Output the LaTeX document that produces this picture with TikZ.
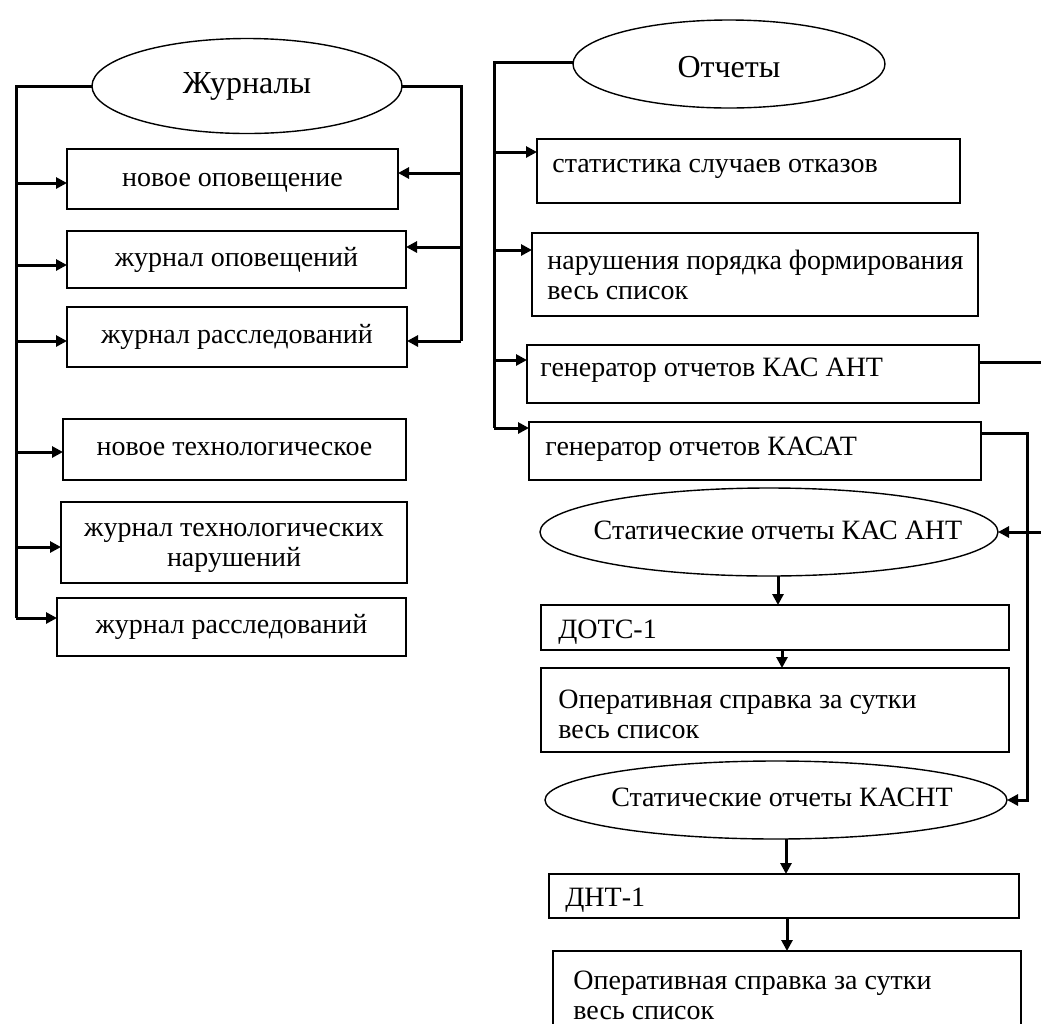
\documentclass[tikz,border=0pt]{standalone}
\usepackage{fontspec}
\setmainfont{Liberation Serif}
\usetikzlibrary{arrows.meta,shapes.geometric}

% box given by its left, top, right and bottom edges (in pixel units)
\newcommand{\edgebox}[5]{%
  \node[bx, minimum width={(#4-#2)*0.5pt}, minimum height={(#5-#3)*0.5pt}]
    (#1) at ({(#2+#4)/2},{(#3+#5)/2}) {};}
% ellipse given by its centre and full width/height
\newcommand{\ovalnode}[5]{%
  \node[ov, minimum width={#4*0.5pt}, minimum height={#5*0.5pt}] (#1) at (#2,#3) {};}

\begin{document}
\begin{tikzpicture}[x=0.5pt,y=-0.5pt,
  bx/.style={draw, line width=0.8pt, inner sep=0pt, outer sep=0pt},
  ov/.style={draw, ellipse, line width=0.7pt, inner sep=0pt, outer sep=0pt},
  ctr/.style={inner sep=0pt, font=\fontsize{14}{15}\selectfont, align=center},
  lbl/.style={inner sep=0pt, font=\fontsize{14}{15}\selectfont, align=left, anchor=west},
  ttl/.style={inner sep=0pt, font=\fontsize{16}{18}\selectfont},
  wire/.style={line width=1.5pt},
  arr/.style={wire, -{Triangle[length=5.5pt,width=5.5pt]}}]

\useasboundingbox (0,0) rectangle (1041,1024);
\clip (0,0) rectangle (1041,1024);

% ---------- Журналы ----------
\ovalnode{jr}{247}{86}{310}{95}
\node[ttl] (jrT) at (247,86) {Журналы};

\edgebox{j1}{67}{149}{398}{209}
\node[ctr] (j1T) at (232.5,183) {новое оповещение};
\edgebox{j2}{67}{231}{406}{288}
\node[ctr] (j2T) at (236.5,259.5) {журнал оповещений};
\edgebox{j3}{67}{307}{407}{367}
\node[ctr] (j3T) at (237,337) {журнал расследований};
\edgebox{j4}{63}{419}{406}{480}
\node[ctr] (j4T) at (234.5,449.5) {новое технологическое};
\edgebox{j5}{61}{502}{407}{583}
\node[ctr] (j5T) at (234,547.5) {журнал технологических\\нарушений};
\edgebox{j6}{57}{598}{406}{656}
\node[ctr] (j6T) at (231.5,627) {журнал расследований};

\coordinate (jL) at (16,86);
\coordinate (jR) at (461,86);
\draw[wire] (jr.west) -- (jL) -- (jL |- 0,618);
\draw[wire] (jr.east) -- (jR) -- (jR |- 0,341);

\draw[arr] (jL |- 0,183) -- (j1.west |- 0,183);
\draw[arr] (jL |- 0,265) -- (j2.west |- 0,265);
\draw[arr] (jL |- 0,341) -- (j3.west |- 0,341);
\draw[arr] (jL |- 0,452) -- (j4.west |- 0,452);
\draw[arr] (jL |- 0,547) -- (j5.west |- 0,547);
\draw[arr] (jL |- 0,618) -- (j6.west |- 0,618);

\draw[arr] (jR |- 0,173) -- (j1.east |- 0,173);
\draw[arr] (jR |- 0,247) -- (j2.east |- 0,247);
\draw[arr] (jR |- 0,341) -- (j3.east |- 0,341);

% ---------- Отчеты ----------
\ovalnode{ot}{729}{64}{312}{88}
\node[ttl] (otT) at (729,67) {Отчеты};

\edgebox{r1}{537}{139}{960}{203}
\node[lbl] (r1T) at (552,169) {статистика случаев отказов};
\edgebox{r2}{532}{233}{978}{316}
\node[lbl] (r2T) at (547,275) {нарушения порядка формирования\\весь список};
\edgebox{r3}{527}{345}{979}{403}
\node[lbl] (r3T) at (540,370) {генератор отчетов КАС АНТ};
\edgebox{r4}{529}{422}{981}{480}
\node[lbl] (r4T) at (545,449) {генератор отчетов КАСАТ};

\coordinate (oL) at (494,62);
\draw[wire] (ot.west |- oL) -- (oL) -- (oL |- 0,428);
\draw[arr] (oL |- 0,152) -- (r1.west |- 0,152);
\draw[arr] (oL |- 0,250) -- (r2.west |- 0,250);
\draw[arr] (oL |- 0,360) -- (r3.west |- 0,360);
\draw[arr] (oL |- 0,428) -- (r4.west |- 0,428);

% static reports КАС АНТ
\ovalnode{e1}{769}{532}{458}{88}
\node[ctr] (e1T) at (778,530) {Статические отчеты КАС АНТ};

\edgebox{d1}{541}{605}{1009}{650}
\node[lbl] (d1T) at (558,632) {ДОТС-1};
\edgebox{d2}{541}{668}{1009}{752}
\node[lbl] (d2T) at (558,714) {Оперативная справка за сутки\\весь список};

% static reports КАСНТ
\ovalnode{e2}{776}{800}{462}{78}
\node[ctr] (e2T) at (782,797) {Статические отчеты КАСНТ};

\edgebox{n1}{549}{874}{1019}{918}
\node[lbl] (n1T) at (565,900) {ДНТ-1};
\edgebox{n2}{553}{951}{1021}{1070}
\node[lbl] (n2T) at (573,995) {Оперативная справка за сутки\\весь список};

% generator links
\coordinate (gA) at (1070,362);
\coordinate (gB) at (1027,433);
\draw[arr] (r3.east |- 0,362) -- (gA) -- (gA |- e1.east) -- (e1.east);
\draw[arr] (r4.east |- 0,433) -- (gB) -- (gB |- e2.east) -- (e2.east);

\draw[arr] (778,0 |- e1.south) -- (778,0 |- d1.north);
\draw[arr] (782,0 |- d1.south) -- (782,0 |- d2.north);
\draw[arr] (786,0 |- e2.south) -- (786,0 |- n1.north);
\draw[arr] (787,0 |- n1.south) -- (787,0 |- n2.north);

\end{tikzpicture}
\end{document}
